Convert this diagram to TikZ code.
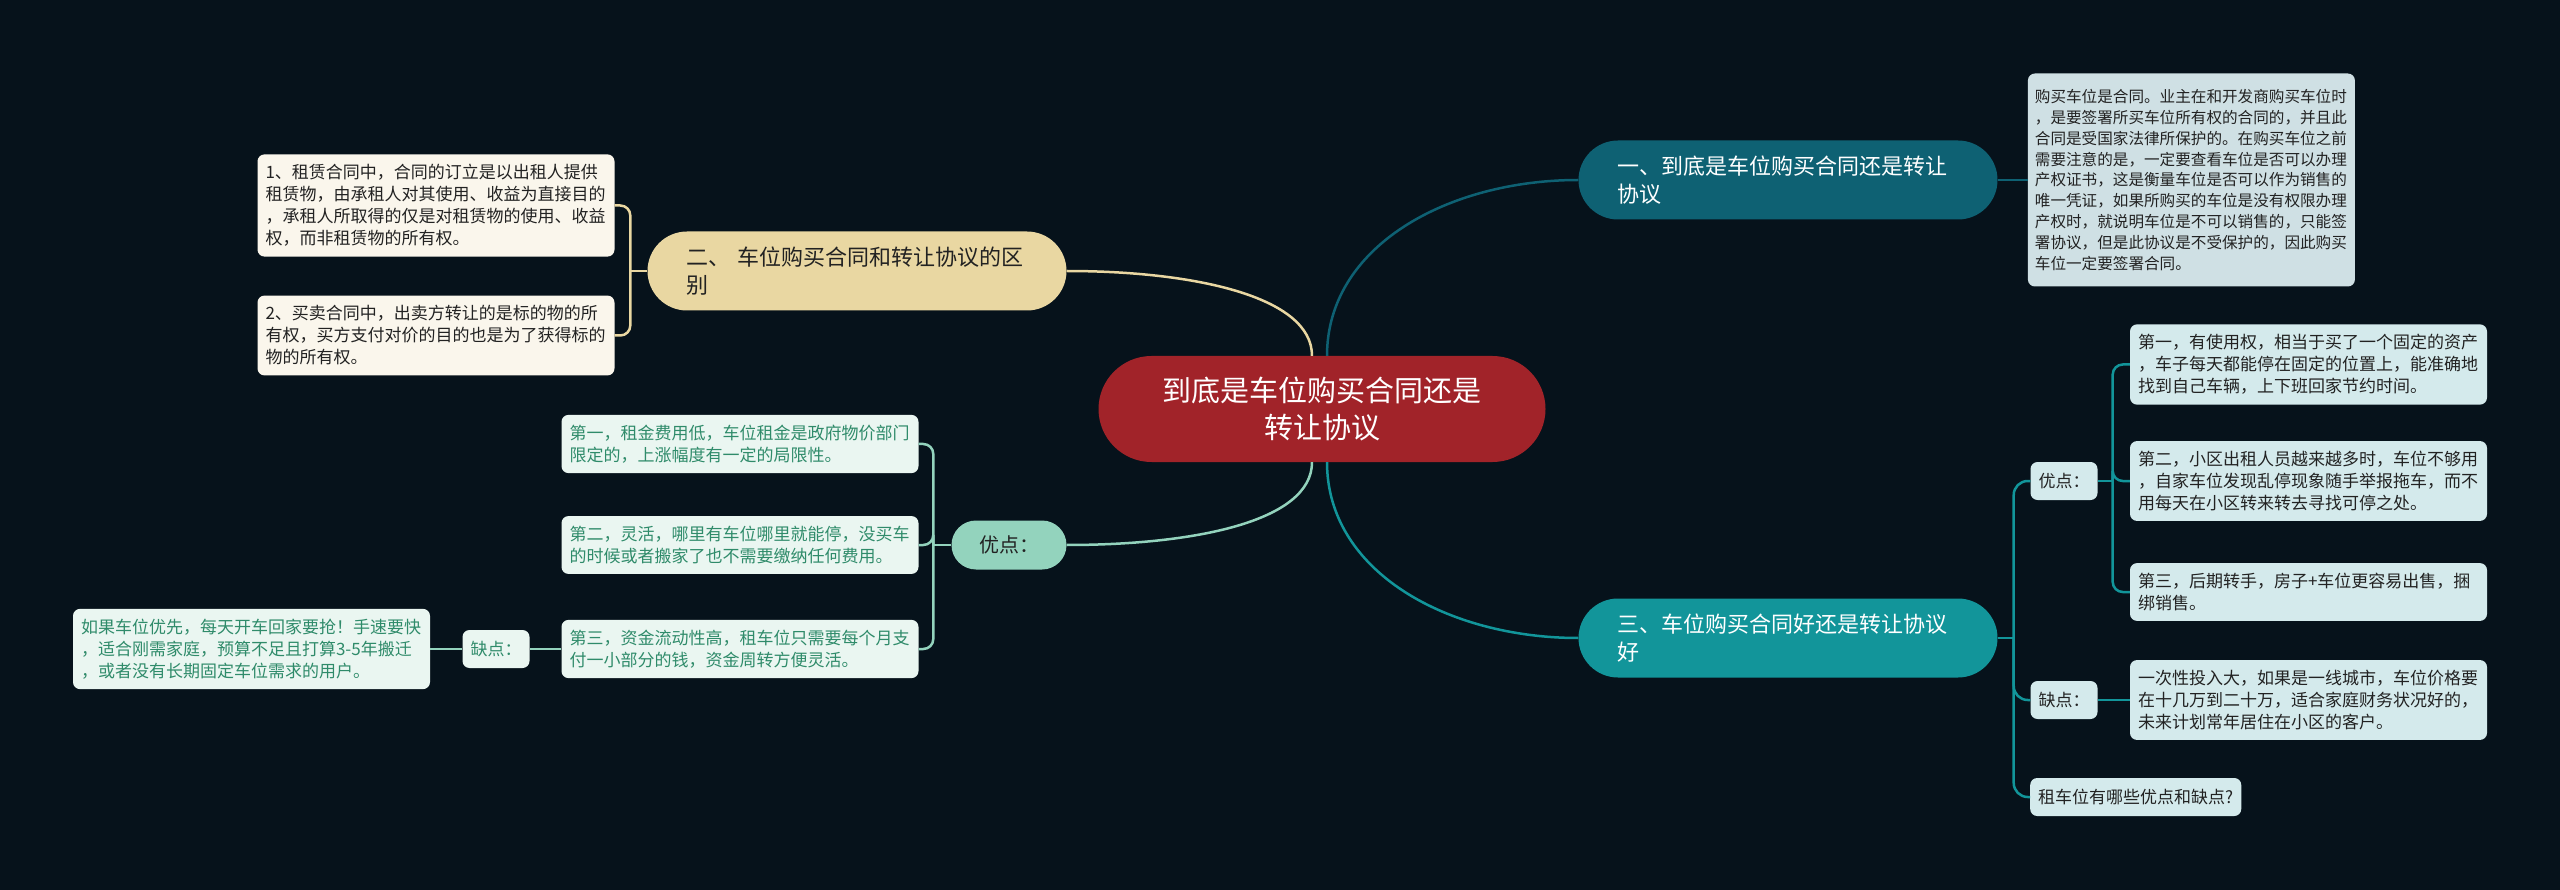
\documentclass[tikz,border=0pt]{standalone}
\usepackage{fontspec}
\setmainfont{Noto Sans CJK SC}
\usepackage{xcolor}
\usepackage{tikz}
\usetikzlibrary{positioning, calc}

\definecolor{bgdark}{HTML}{06121B}
\definecolor{rootred}{HTML}{A12329}
\definecolor{tealdark}{HTML}{0E6173}
\definecolor{tealmid}{HTML}{12959A}
\definecolor{sand}{HTML}{E9D7A2}
\definecolor{sandlight}{HTML}{FAF6EC}
\definecolor{mint}{HTML}{93D3BD}
\definecolor{mintlight}{HTML}{EAF6F1}
\definecolor{minttext}{HTML}{2F8B6A}
\definecolor{icelight}{HTML}{D4EAEC}
\definecolor{greylight}{HTML}{CFE0E4}
\definecolor{inkdark}{HTML}{222222}

\begin{document}
\begin{tikzpicture}[
  x=1pt, y=-1pt,
  root/.style={fill=rootred, text=white, rounded corners=53pt, minimum width=447pt,
    minimum height=106pt, inner sep=0pt, align=center, font=\fontsize{29}{37}\selectfont},
  topic/.style={rounded corners=39.5pt, minimum height=79pt, text width=341pt,
    inner xsep=39pt, inner ysep=0pt, align=left, font=\fontsize{22}{28}\selectfont},
  pill/.style={fill=mint, text=inkdark, rounded corners=24.5pt, minimum width=115pt,
    minimum height=49pt, inner sep=0pt, font=\fontsize{20}{24}\selectfont},
  tag/.style={rounded corners=7pt, minimum height=38pt, inner xsep=8pt, inner ysep=0pt,
    font=\fontsize{17}{22}\selectfont},
  leaf/.style={rounded corners=7pt, text width=341pt, inner xsep=8pt, inner ysep=10pt,
    align=left, font=\fontsize{17}{22}\selectfont},
  link/.style={draw=#1, line width=2.5pt}
]
  \fill[bgdark] (0,0) rectangle (2560,890);
  \useasboundingbox (0,0) rectangle (2560,890);

  \node[root] (root) at (1322,409) {到底是车位购买合同还是\\转让协议};

  % right side
  \node[topic, fill=tealdark, text=white] (t1) at (1788,180) {一、到底是车位购买合同还是转让\\协议};
  \node[topic, fill=tealmid, text=white] (t3) at (1788,638) {三、车位购买合同好还是转让协议\\好};
  \node[leaf, fill=greylight, text=inkdark, text width=313pt, inner xsep=7pt,
    minimum height=213pt, font=\fontsize{15.6}{20.8}\selectfont, right=30pt of t1] (r1)
    {购买车位是合同。业主在和开发商购买车位时\\，是要签署所买车位所有权的合同的，并且此\\合同是受国家法律所保护的。在购买车位之前\\需要注意的是，一定要查看车位是否可以办理\\产权证书，这是衡量车位是否可以作为销售的\\唯一凭证，如果所购买的车位是没有权限办理\\产权时，就说明车位是不可以销售的，只能签\\署协议，但是此协议是不受保护的，因此购买\\车位一定要签署合同。};

  \node[tag, fill=icelight, text=inkdark] (rp) at (2064,481) {优点：};
  \node[tag, fill=icelight, text=inkdark] (rc) at (2064,700) {缺点：};
  \node[tag, fill=icelight, text=inkdark, anchor=west] (rq) at (2030,797) {租车位有哪些优点和缺点?};
  \node[leaf, fill=icelight, text=inkdark] (rp1) at (2308.5,364.5) {第一，有使用权，相当于买了一个固定的资产\\，车子每天都能停在固定的位置上，能准确地\\找到自己车辆，上下班回家节约时间。};
  \node[leaf, fill=icelight, text=inkdark] (rp2) at (2308.5,481) {第二，小区出租人员越来越多时，车位不够用\\，自家车位发现乱停现象随手举报拖车，而不\\用每天在小区转来转去寻找可停之处。};
  \node[leaf, fill=icelight, text=inkdark] (rp3) at (2308.5,592) {第三，后期转手，房子+车位更容易出售，捆\\绑销售。};
  \node[leaf, fill=icelight, text=inkdark] (rc1) at (2308.5,700) {一次性投入大，如果是一线城市，车位价格要\\在十几万到二十万，适合家庭财务状况好的，\\未来计划常年居住在小区的客户。};

  % left side
  \node[topic, fill=sand, text=inkdark] (t2) at (857,271) {二、 车位购买合同和转让协议的区\\别};
  \node[leaf, fill=sandlight, text=inkdark] (l1) at (436,205.5) {1、租赁合同中，合同的订立是以出租人提供\\租赁物，由承租人对其使用、收益为直接目的\\，承租人所取得的仅是对租赁物的使用、收益\\权，而非租赁物的所有权。};
  \node[leaf, fill=sandlight, text=inkdark] (l2) at (436,335.5) {2、买卖合同中，出卖方转让的是标的物的所\\有权，买方支付对价的目的也是为了获得标的\\物的所有权。};

  \node[pill] (lp) at (1009,545) {优点：};
  \node[leaf, fill=mintlight, text=minttext] (lp1) at (740,444) {第一，租金费用低，车位租金是政府物价部门\\限定的，上涨幅度有一定的局限性。};
  \node[leaf, fill=mintlight, text=minttext] (lp2) at (740,545) {第二，灵活，哪里有车位哪里就能停，没买车\\的时候或者搬家了也不需要缴纳任何费用。};
  \node[leaf, fill=mintlight, text=minttext] (lp3) at (740,649) {第三，资金流动性高，租车位只需要每个月支\\付一小部分的钱，资金周转方便灵活。};
  \node[tag, fill=mintlight, text=minttext] (lc) at (496,649) {缺点：};
  \node[leaf, fill=mintlight, text=minttext] (lc1) at (251.5,649) {如果车位优先，每天开车回家要抢！手速要快\\，适合刚需家庭，预算不足且打算3-5年搬迁\\，或者没有长期固定车位需求的用户。};

  % main branches
  \draw[link=tealdark] ([xshift=5pt]root.north) .. controls +(0,-110) and +(-130,0) .. (t1.west);
  \draw[link=tealmid] ([xshift=5pt]root.south) .. controls +(0,110) and +(-130,0) .. (t3.west);
  \draw[link=sand] ([xshift=-10pt]root.north) .. controls +(0,-60) and +(125,0) .. (t2.east);
  \draw[link=mint] ([xshift=-10pt]root.south) .. controls +(0,60) and +(125,0) .. (lp.east);

  % brackets
  \coordinate (j3) at ([xshift=16pt]t3.east);
  \coordinate (jp) at ([xshift=15pt]rp.east);
  \coordinate (j2) at ([xshift=-17pt]t2.west);
  \coordinate (jl) at ([xshift=-18pt]lp.west);

  \draw[link=tealdark] (t1.east) -- (r1.west);
  \draw[link=tealmid] (t3.east) -- (j3);
  \foreach \n in {rp, rc, rq}
    \draw[link=tealmid, rounded corners=14pt] (j3) |- (\n.west);
  \draw[link=tealmid] (rp.east) -- (jp);
  \foreach \n in {rp1, rp2, rp3}
    \draw[link=tealmid, rounded corners=10pt] (jp) |- (\n.west);
  \draw[link=tealmid] (rc.east) -- (rc1.west);

  \draw[link=sand] (t2.west) -- (j2);
  \foreach \n in {l1, l2}
    \draw[link=sand, rounded corners=10pt] (j2) |- (\n.east);
  \draw[link=mint] (lp.west) -- (jl);
  \foreach \n in {lp1, lp2, lp3}
    \draw[link=mint, rounded corners=10pt] (jl) |- (\n.east);
  \draw[link=mint] (lp3.west) -- (lc.east);
  \draw[link=mint] (lc.west) -- (lc1.east);
\end{tikzpicture}
\end{document}
